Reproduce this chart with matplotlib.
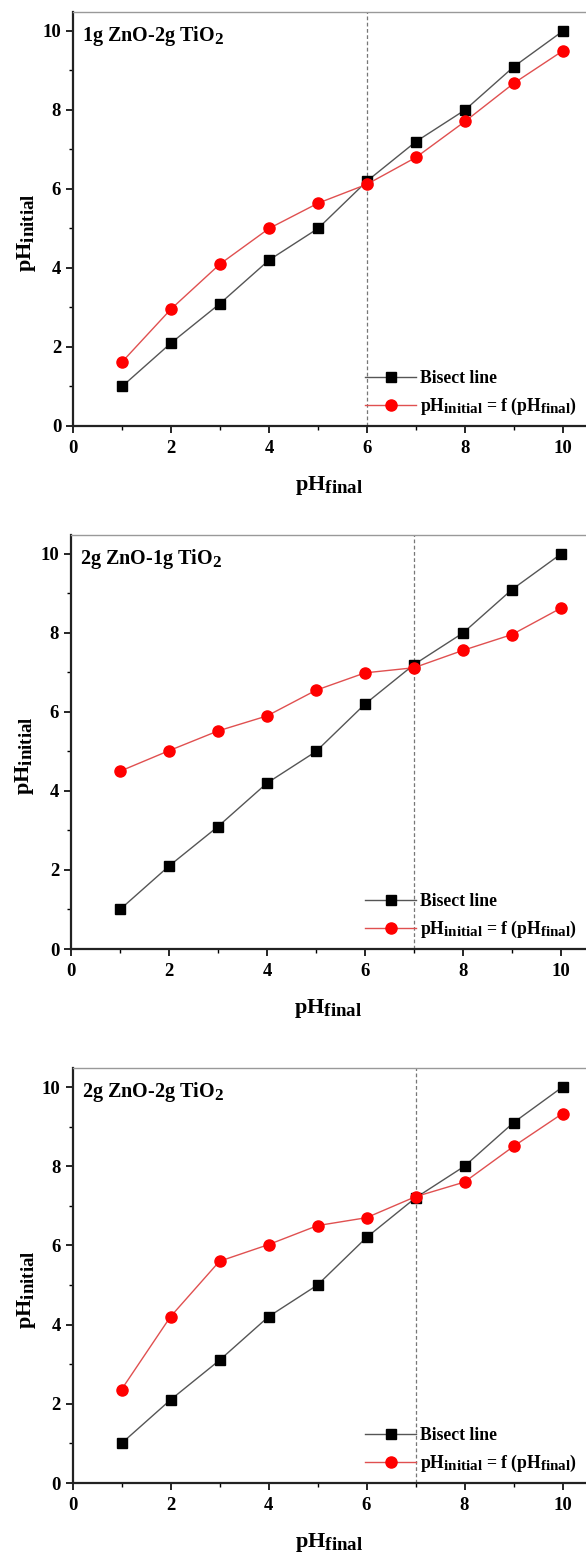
import numpy as np
import matplotlib
matplotlib.use("Agg")
import matplotlib.pyplot as plt
import matplotlib._mathtext as mt
from matplotlib.ticker import MultipleLocator

plt.rcParams['font.family'] = 'Liberation Serif'
plt.rcParams['font.weight'] = 'bold'
plt.rcParams['mathtext.fontset'] = 'custom'
plt.rcParams['mathtext.rm'] = 'Liberation Serif:bold'
plt.rcParams['mathtext.it'] = 'Liberation Serif:bold'
plt.rcParams['mathtext.bf'] = 'Liberation Serif:bold'
# indeksy dolne prawie tej samej wielkości co tekst (jak w oryginale)
mt.SHRINK_FACTOR = 0.85

# === Dane ===
ph_final = [1, 2, 3, 4, 5, 6, 7, 8, 9, 10]
bisect = [1.0, 2.1, 3.1, 4.2, 5.0, 6.2, 7.2, 8.0, 9.1, 10.0]

ph_init_1zn_2ti = [1.62, 2.96, 4.10, 5.00, 5.64, 6.12, 6.80, 7.71, 8.68, 9.50]
ph_init_2zn_1ti = [4.50, 5.02, 5.52, 5.90, 6.55, 6.99, 7.12, 7.56, 7.96, 8.63]
ph_init_2zn_2ti = [2.36, 4.20, 5.60, 6.02, 6.50, 6.70, 7.23, 7.60, 8.50, 9.33]

titles = [r'1g ZnO-2g TiO$_\mathrm{2}$', r'2g ZnO-1g TiO$_\mathrm{2}$', r'2g ZnO-2g TiO$_\mathrm{2}$']
series = [ph_init_1zn_2ti, ph_init_2zn_1ti, ph_init_2zn_2ti]
pzc = [6, 7, 7]

W, H = 586, 1554
fig = plt.figure(figsize=(W / 100, H / 100), dpi=100)

# (left, top, bottom) w pikselach
boxes = [(73, 12, 426), (71, 535, 949), (72.5, 1068, 1483)]

for (left, top, bottom), title, y_red, xv in zip(boxes, titles, series, pzc):
    ax = fig.add_axes([left / W, (H - bottom) / H, (W - left) / W, (bottom - top) / H])
    ax.set_xlim(0, (W - left) / 49.0)
    ax.set_ylim(0, 10.48)

    ax.axvline(xv, color='#777777', lw=0.9, ls=(0, (3, 2)), zorder=1)
    ax.plot(ph_final, bisect, color='#555555', lw=1.0, marker='s', ms=7,
            mfc='black', mec='black', label='Bisect line', zorder=3)
    ax.plot(ph_final, y_red, color='#e05050', lw=1.0, marker='o', ms=8,
            mfc='#ff0000', mec='#ff0000',
            label=r'pH$_\mathrm{initial}$ = f (pH$_\mathrm{final}$)', zorder=4)

    ax.text(0.018, 0.972, title, transform=ax.transAxes, fontsize=14.5,
            fontweight='bold', va='top', ha='left')

    ax.xaxis.set_major_locator(MultipleLocator(2))
    ax.xaxis.set_minor_locator(MultipleLocator(1))
    ax.yaxis.set_major_locator(MultipleLocator(2))
    ax.yaxis.set_minor_locator(MultipleLocator(1))
    ax.tick_params(which='major', direction='out', length=5, width=1.2, labelsize=13.5)
    ax.tick_params(axis='x', which='major', pad=5)
    ax.tick_params(which='minor', direction='out', length=3, width=1.0)
    for lab in ax.get_xticklabels() + ax.get_yticklabels():
        lab.set_fontweight('bold')

    for s in ['left', 'bottom']:
        ax.spines[s].set_linewidth(1.6)
        ax.spines[s].set_color('#222222')
    ax.spines['top'].set_color('#999999')
    ax.spines['top'].set_linewidth(1.0)
    ax.spines['right'].set_visible(False)

    ax.set_xlabel(r'pH$_\mathrm{final}$', fontsize=16, fontweight='bold', labelpad=12)
    ax.set_ylabel(r'pH$_\mathrm{initial}$', fontsize=16, fontweight='bold')
    ax.yaxis.set_label_coords(-0.068, 0.466)

    ax.legend(loc='lower right', bbox_to_anchor=(1.0, 0.0), frameon=False,
              fontsize=12.7, handlelength=2.85, handletextpad=0.25, labelspacing=0.5,
              borderaxespad=0.1)

fig.savefig('out.png', dpi=100)
